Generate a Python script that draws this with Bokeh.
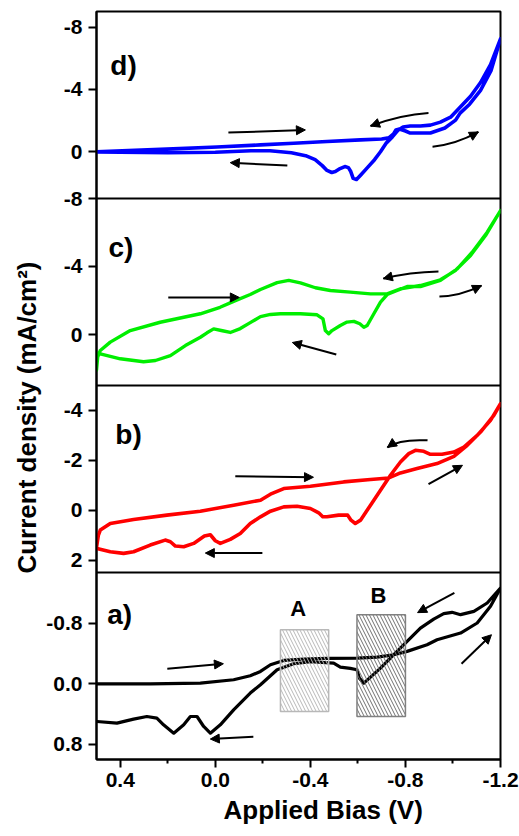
import math
from bokeh.plotting import figure
from bokeh.models import (Range1d, FixedTicker, PrintfTickFormatter, Span, Label,
                          Arrow, NormalHead, Title)
from bokeh.embed import file_html
from bokeh.resources import INLINE

FONT = "Liberation Sans"

# ---------------- data ----------------
# panel a (black)
a_x = [0.50, 0.274, 0.063, -0.077, -0.147, -0.19, -0.232, -0.288, -0.372, -0.47, -0.596, -0.681,
       -0.751, -0.807, -0.891, -0.933, -1.032, -1.102, -1.158, -1.2,
       -1.144, -1.088, -1.032, -0.996, -0.961, -0.919, -0.863, -0.807, -0.751, -0.695, -0.625,
       -0.606, -0.596, -0.568, -0.526, -0.498, -0.40, -0.33, -0.26, -0.19, -0.147, -0.077,
       -0.021, 0.021, 0.049, 0.077, 0.105, 0.133, 0.175, 0.218, 0.246, 0.288, 0.344, 0.414, 0.498]
a_y = [0.0, 0.0, -0.01, -0.053, -0.106, -0.163, -0.251, -0.309, -0.326, -0.335, -0.34, -0.353,
       -0.384, -0.428, -0.516, -0.582, -0.67, -0.803, -1.023, -1.265,
       -1.067, -0.957, -0.913, -0.944, -0.926, -0.855, -0.736, -0.56, -0.384, -0.207, -0.009,
       -0.075, -0.185, -0.203, -0.221, -0.273, -0.291, -0.265, -0.185, 0.013, 0.123, 0.344,
       0.542, 0.652, 0.564, 0.432, 0.432, 0.542, 0.652, 0.542, 0.454, 0.432, 0.467, 0.52, 0.498]

# panel b (red)
b_x = [0.50, 0.492, 0.484, 0.442, 0.344, 0.204, 0.063, -0.077, -0.19, -0.232, -0.288, -0.4,
       -0.54, -0.653, -0.73, -0.779, -0.849, -0.933, -1.004, -1.06, -1.116, -1.172, -1.2,
       -1.158, -1.102, -1.046, -1.004, -0.954, -0.905, -0.877, -0.842, -0.814, -0.779, -0.737,
       -0.695, -0.653, -0.611, -0.589, -0.571, -0.557, -0.519, -0.47, -0.452, -0.435, -0.4,
       -0.344, -0.288, -0.232, -0.19, -0.147, -0.105, -0.063, -0.021, 0.0, 0.021, 0.046, 0.091,
       0.133, 0.168, 0.189, 0.211, 0.274, 0.344, 0.386, 0.442, 0.498]
b_y = [1.5, 1.0, 0.8, 0.533, 0.373, 0.2, 0.04, -0.2, -0.4, -0.64, -0.867, -0.96,
       -1.133, -1.227, -1.293, -1.493, -1.667, -1.867, -2.16, -2.6, -3.133, -3.8, -4.267,
       -3.6, -3.0, -2.533, -2.333, -2.24, -2.24, -2.36, -2.4, -2.267, -1.933, -1.4,
       -0.8, -0.2, 0.4, 0.533, 0.4, 0.2, 0.2, 0.267, 0.267, 0.107, -0.067,
       -0.16, -0.133, 0.04, 0.267, 0.533, 0.933, 1.173, 1.333, 1.227, 0.987, 1.04, 1.333,
       1.467, 1.44, 1.267, 1.2, 1.4, 1.667, 1.733, 1.667, 1.533]

# panel c (green)
c_x = [0.50, 0.495, 0.484, 0.442, 0.358, 0.232, 0.063, -0.02, -0.077, -0.147, -0.19, -0.26,
       -0.309, -0.358, -0.421, -0.484, -0.568, -0.653, -0.723, -0.779, -0.863, -0.947, -1.01,
       -1.074, -1.137, -1.2,
       -1.144, -1.081, -1.018, -0.947, -0.863, -0.807, -0.765, -0.723, -0.695, -0.667, -0.639,
       -0.625, -0.608, -0.583, -0.554, -0.526, -0.491, -0.477, -0.463, -0.453, -0.428, -0.358,
       -0.274, -0.232, -0.19, -0.147, -0.105, -0.063, -0.03, 0.007, 0.035, 0.063, 0.126, 0.189,
       0.252, 0.302, 0.4, 0.484, 0.498]
c_y = [2.1, 1.33, 0.94, 0.45, -0.23, -0.72, -1.22, -1.6, -1.95, -2.35, -2.65, -3.05,
       -3.18, -3.04, -2.75, -2.59, -2.49, -2.39, -2.39, -2.69, -2.88, -3.22, -3.76,
       -4.65, -5.82, -7.29,
       -6.02, -4.84, -3.86, -3.18, -2.82, -2.82, -2.59, -2.35, -1.9, -1.22, -0.53,
       -0.43, -0.63, -0.77, -0.73, -0.53, -0.23, -0.04, -0.23, -0.92, -1.16, -1.22,
       -1.22, -1.18, -1.05, -0.7, -0.35, -0.12, -0.22, -0.33, -0.1, 0.16, 0.65, 1.24,
       1.53, 1.6, 1.43, 1.14, 1.1]

# panel d (blue)
d_x = [0.50, 0.204, -0.007, -0.19, -0.33, -0.47, -0.611, -0.70, -0.73, -0.75, -0.76, -0.775,
       -0.80, -0.82, -0.905, -0.966, -1.011, -1.03, -1.07, -1.116, -1.16, -1.2,
       -1.158, -1.116, -1.074, -1.03, -0.99, -0.947, -0.905, -0.863, -0.82, -0.79, -0.77,
       -0.745, -0.72, -0.695, -0.67, -0.64, -0.61, -0.594, -0.58, -0.57, -0.56, -0.545, -0.525,
       -0.505, -0.49, -0.47, -0.45, -0.42, -0.38, -0.32, -0.23, -0.15, 0.0, 0.2, 0.5]
d_y = [0.0, -0.17, -0.30, -0.44, -0.55, -0.66, -0.76, -0.82, -0.89, -1.14, -1.4, -1.46,
       -1.33, -1.2, -1.2, -1.52, -2.03, -2.48, -3.05, -3.94, -5.2, -7.24,
       -5.59, -4.44, -3.56, -2.86, -2.22, -1.9, -1.71, -1.65, -1.65, -1.59, -1.4,
       -0.95, -0.57, 0.0, 0.51, 1.02, 1.52, 1.78, 1.71, 1.27, 1.02, 0.95, 1.08,
       1.27, 1.33, 1.2, 0.89, 0.51, 0.25, 0.06, -0.06, -0.06, 0.03, 0.06, 0.02]

# panel ranges (top value, bottom value) and y tick values / labels
a_range = (-1.47, 1.0)
b_range = (-5.0, 2.5)
c_range = (-8.0, 3.0)
d_range = (-9.0, 3.0)
a_ticks = [-0.8, 0.0, 0.8]
a_tick_labels = ["-0.8", "0.0", "0.8"]
b_ticks = [-4, -2, 0, 2]
b_tick_labels = ["-4", "-2", "0", "2"]
c_ticks = [-8, -4, 0]
c_tick_labels = ["-8", "-4", "0"]
d_ticks = [-8, -4, 0]
d_tick_labels = ["-8", "-4", "0"]

x_ticks = [0.4, 0.0, -0.4, -0.8, -1.2]
x_minor = [0.2, -0.2, -0.6, -1.0]

# arrows: straight (x_start, y_start, x_end, y_end)
a_arrows = [(0.202, -0.2, -0.034, -0.265), (-0.16, 0.70, 0.021, 0.73),
            (-1.006, -1.2, -0.851, -0.94), (-1.036, -0.265, -1.162, -0.648)]
b_arrows = [(-0.084, -1.36, -0.413, -1.32), (-0.198, 1.72, 0.042, 1.72),
            (-0.897, -1.04, -1.04, -1.8)]
c_arrows = [(0.198, -2.18, -0.101, -2.18), (-0.509, 1.18, -0.324, 0.47)]
d_arrows = [(-0.055, -1.23, -0.379, -1.40), (-0.303, 0.89, -0.063, 0.70)]
# curved arrows: (x0, y0, x_mid, y_mid, x1, y1), head at (x1, y1)
b_curved = [(-0.893, -2.8, -0.792, -2.76, -0.724, -2.52)]
c_curved = [(-0.939, -3.71, -0.821, -3.59, -0.707, -3.29),
            (-0.943, -2.24, -1.03, -2.41, -1.12, -2.88)]
d_curved = [(-0.897, -2.48, -0.779, -2.22, -0.653, -1.65),
            (-0.914, -0.32, -1.011, -0.63, -1.107, -1.27)]

# hatched regions in panel a
box_names = ["A", "B"]
box_left = [-0.274, -0.596]
box_right = [-0.477, -0.80]
box_top = [-0.714, -0.913]
box_bottom = [0.366, 0.432]
box_label_x = [-0.349, -0.686]
box_label_y = [-0.99, -1.164]

panel_names = ["a", "b", "c", "d"]
panel_label_x = [0.455, 0.421, 0.45, 0.442]
panel_label_y = [-0.91, -3.04, -5.12, -5.52]

x_title = "Applied Bias (V)"
y_title = "Current density (mA/cm\u00b2)"

# ---------------- figure ----------------
p = figure(width=519, height=836, output_backend="svg", toolbar_location=None,
           x_range=Range1d(0.5, -1.2), y_range=Range1d(0, 4),
           min_border_left=96, min_border_right=19, min_border_top=11, min_border_bottom=77)
p.grid.visible = False
p.outline_line_color = "black"
p.outline_line_width = 2
p.background_fill_color = "white"
p.border_fill_color = "white"

ranges = [a_range, b_range, c_range, d_range]
tick_sets = [(a_ticks, a_tick_labels), (b_ticks, b_tick_labels),
             (c_ticks, c_tick_labels), (d_ticks, d_tick_labels)]
extra = {}
ypos, overrides = [], {}
for k, (name, (top, bot)) in enumerate(zip(panel_names, ranges)):
    span = bot - top
    extra[name] = Range1d(start=bot + k * span, end=top - (3 - k) * span)
    for v, lab in zip(*tick_sets[k]):
        pos = round(k + (bot - v) / span, 6)
        ypos.append(pos)
        overrides[pos] = lab
p.extra_y_ranges = extra

# axes
p.yaxis.ticker = FixedTicker(ticks=ypos)
p.yaxis.major_label_overrides = overrides
p.xaxis.ticker = FixedTicker(ticks=x_ticks, minor_ticks=x_minor)
p.xaxis.formatter = PrintfTickFormatter(format="%.1f")
for ax in (p.xaxis, p.yaxis):
    ax.axis_line_width = 2
    ax.axis_line_color = "black"
    ax.major_tick_line_width = 2
    ax.major_tick_line_color = "black"
    ax.major_tick_out = 8
    ax.major_tick_in = 0
    ax.minor_tick_line_width = 2
    ax.minor_tick_line_color = "black"
    ax.major_label_text_font = FONT
    ax.major_label_text_font_style = "bold"
    ax.major_label_text_font_size = "21px"
    ax.major_label_text_color = "black"
    ax.major_label_standoff = 6
p.yaxis.minor_tick_out = 0
p.yaxis.minor_tick_in = 0
p.xaxis.minor_tick_out = 4
p.xaxis.minor_tick_in = 0
p.xaxis.major_label_standoff = 5

for k in (1, 2, 3):
    p.add_layout(Span(location=k, dimension="width", line_color="black", line_width=2))

# axis titles (as side titles so they sit outside the frame)
p.add_layout(Title(text=y_title, align="right", offset=250, standoff=4, text_font=FONT,
                   text_font_style="bold", text_font_size="26px", text_color="black"), "left")
p.add_layout(Title(text=x_title, align="left", offset=127, standoff=6, text_font=FONT,
                   text_font_style="bold", text_font_size="26px", text_color="black"), "below")

# curves
colors = {"a": "black", "b": "#ff0000", "c": "#00ee00", "d": "#0000ff"}
widths = {"a": 3.2, "b": 3.6, "c": 3.4, "d": 3.6}
curves = {"a": (a_x, a_y), "b": (b_x, b_y), "c": (c_x, c_y), "d": (d_x, d_y)}
for name in panel_names:
    xs, ys = curves[name]
    p.line(xs, ys, y_range_name=name, line_color=colors[name], line_width=widths[name],
           line_join="round", line_cap="round")

# hatched boxes (over the curve)
p.quad(left=[box_left[0]], right=[box_right[0]], top=[box_top[0]], bottom=[box_bottom[0]],
       y_range_name="a", fill_alpha=0, line_color="#b8b8b8", line_width=1.5,
       hatch_pattern="left_diagonal_line", hatch_color="#b8b8b8", hatch_scale=7, hatch_weight=1)
p.quad(left=[box_left[1]], right=[box_right[1]], top=[box_top[1]], bottom=[box_bottom[1]],
       y_range_name="a", fill_alpha=0, line_color="#808080", line_width=1.5,
       hatch_pattern="left_diagonal_line", hatch_color="#707070", hatch_scale=7, hatch_weight=1)
for nm, lx, ly in zip(box_names, box_label_x, box_label_y):
    p.add_layout(Label(x=lx, y=ly, y_range_name="a", text=nm, text_font=FONT,
                       text_font_style="bold", text_font_size="22px", text_align="center",
                       text_baseline="middle", text_color="black"))

# arrows
def head():
    return NormalHead(size=9, line_color="black", fill_color="black", line_width=1)

straight = {"a": a_arrows, "b": b_arrows, "c": c_arrows, "d": d_arrows}
curved = {"b": b_curved, "c": c_curved, "d": d_curved}
for name, arrs in straight.items():
    for xs0, ys0, xe, ye in arrs:
        p.add_layout(Arrow(end=head(), x_start=xs0, y_start=ys0, x_end=xe, y_end=ye,
                           y_range_name=name, line_color="black", line_width=2))
for name, arrs in curved.items():
    for x0, y0, xm, ym, x1, y1 in arrs:
        cx = 2 * xm - 0.5 * (x0 + x1)
        cy = 2 * ym - 0.5 * (y0 + y1)
        p.quadratic(x0=[x0], y0=[y0], x1=[x1], y1=[y1], cx=[cx], cy=[cy],
                    y_range_name=name, line_color="black", line_width=2)
        p.add_layout(Arrow(end=head(), x_start=cx, y_start=cy, x_end=x1, y_end=y1,
                           y_range_name=name, line_alpha=0))

# panel labels
for name, lx, ly in zip(panel_names, panel_label_x, panel_label_y):
    p.add_layout(Label(x=lx, y=ly, y_range_name=name, text=name + ")", text_font=FONT,
                       text_font_style="bold", text_font_size="28px", text_align="left",
                       text_baseline="alphabetic", text_color="black"))

open("out.html", "w").write(file_html(p, INLINE))
